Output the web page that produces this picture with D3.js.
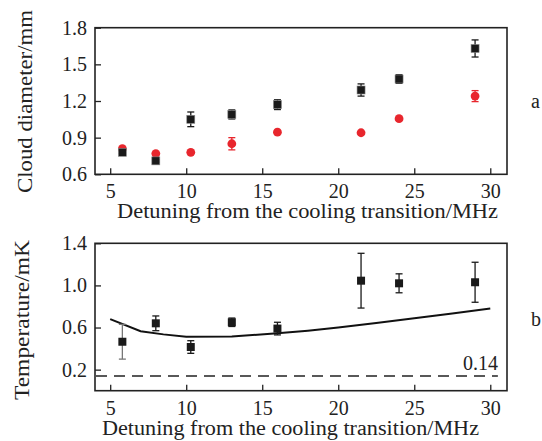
<!DOCTYPE html>
<html>
<head>
<meta charset="utf-8">
<script src="https://cdn.jsdelivr.net/npm/d3@7"></script>
<style>
  body { margin: 0; background: #fff; }
  svg text { font-family: "Liberation Serif", "DejaVu Serif", serif; fill: #222; }
</style>
</head>
<body>
<svg id="chart" width="542" height="441"></svg>
<script>
// detuning values (MHz)
const detuning = [5.8, 8, 10.3, 13, 16, 21.5, 24, 29];
const xTicks = [5, 10, 15, 20, 25, 30];

// panel a: cloud diameter (mm)
const diamBlack = [0.78, 0.71, 1.05, 1.09, 1.17, 1.29, 1.38, 1.63];
const diamBlackErr = [0.01, 0.01, 0.06, 0.037, 0.04, 0.05, 0.035, 0.07];
const diamRed = [0.81, 0.77, 0.78, 0.85, 0.945, 0.94, 1.055, 1.24];
const diamRedErr = [0, 0, 0, 0.05, 0, 0, 0, 0.045];
const diamTicks = [0.6, 0.9, 1.2, 1.5, 1.8];

// panel b: temperature (mK)
const temp = [0.465, 0.64, 0.415, 0.65, 0.59, 1.045, 1.02, 1.03];
const tempErr = [0.165, 0.07, 0.06, 0.04, 0.06, 0.26, 0.09, 0.19];
const theoryX = [5, 7, 8.5, 10, 13, 16, 18, 20, 22.5, 25, 27.5, 30];
const theoryT = [0.68, 0.565, 0.535, 0.512, 0.515, 0.545, 0.57, 0.6, 0.642, 0.688, 0.733, 0.78];
const dopplerLimit = 0.14;
const tempTicks = [0.2, 0.6, 1.0, 1.4];

const svg = d3.select("#chart");
const left = 95, right = 507;
const x = d3.scaleLinear().domain([4, 31.1]).range([left, right]);

function panel(top, bottom, yDomain, ticks, o) {
  const y = d3.scaleLinear().domain(yDomain).range([bottom, top]);
  const g = svg.append("g");

  g.append("g").attr("transform", `translate(0,${bottom})`)
    .call(d3.axisBottom(x).tickValues(xTicks).tickSize(-6).tickPadding(10).tickFormat(d3.format("d")))
    .call(a => a.select(".domain").remove())
    .call(a => a.selectAll("line").attr("stroke", "#222").attr("stroke-width", 1.3))
    .call(a => a.selectAll("text").attr("font-size", 20).attr("fill", "#222"));

  g.append("g").attr("transform", `translate(${left},0)`)
    .call(d3.axisLeft(y).tickValues(ticks).tickSize(-6).tickPadding(8).tickFormat(d3.format(".1f")))
    .call(a => a.select(".domain").remove())
    .call(a => a.selectAll("line").attr("stroke", "#222").attr("stroke-width", 1.3))
    .call(a => a.selectAll("text").attr("font-size", 20).attr("fill", "#222"));

  g.append("rect").attr("x", left).attr("y", top)
    .attr("width", right - left).attr("height", bottom - top)
    .attr("fill", "none").attr("stroke", "#222").attr("stroke-width", 1.6);

  g.append("text").attr("x", o.titleX).attr("y", bottom + 44)
    .attr("font-size", 20.5).attr("textLength", o.titleLen).attr("lengthAdjust", "spacingAndGlyphs")
    .text("Detuning from the cooling transition/MHz");

  g.append("text").attr("transform", `translate(${o.yTitleX},${o.yTitleMid}) rotate(-90)`)
    .attr("text-anchor", "middle").attr("font-size", 21)
    .attr("textLength", o.yTitleLen).attr("lengthAdjust", "spacingAndGlyphs")
    .text(o.yTitle);

  g.append("text").attr("x", 531).attr("y", o.letterY).attr("font-size", 20).text(o.letter);
  return { g, y };
}

function errorBars(g, y, xs, ys, errs, color) {
  const d = xs.map((v, i) => ({ x: v, y: ys[i], e: errs[i] })).filter(p => p.e > 0);
  const eb = g.append("g").attr("stroke", color).attr("stroke-width", 1.3);
  eb.selectAll("line.v").data(d).join("line")
    .attr("x1", p => x(p.x)).attr("x2", p => x(p.x))
    .attr("y1", p => y(p.y - p.e)).attr("y2", p => y(p.y + p.e));
  [-1, 1].forEach(s => {
    eb.selectAll("line.c" + (s > 0 ? "t" : "b")).data(d).join("line")
      .attr("x1", p => x(p.x) - 3.5).attr("x2", p => x(p.x) + 3.5)
      .attr("y1", p => y(p.y + s * p.e)).attr("y2", p => y(p.y + s * p.e));
  });
}

// panel a
const pa = panel(27.7, 174.3, [0.6, 1.8], diamTicks, {
  titleX: 117, titleLen: 381, yTitle: "Cloud diameter/mm", yTitleX: 32, yTitleMid: 101.5,
  yTitleLen: 183, letter: "a", letterY: 108
});
errorBars(pa.g, pa.y, detuning, diamRed, diamRedErr, "#e8262d");
errorBars(pa.g, pa.y, detuning, diamBlack, diamBlackErr, "#1a1a1a");
pa.g.selectAll("circle.red").data(detuning).join("circle")
  .attr("cx", d => x(d)).attr("cy", (d, i) => pa.y(diamRed[i])).attr("r", 4.4)
  .attr("fill", "#e8262d");
pa.g.selectAll("rect.sq").data(detuning).join("rect")
  .attr("x", d => x(d) - 4).attr("y", (d, i) => pa.y(diamBlack[i]) - 4)
  .attr("width", 8).attr("height", 8).attr("fill", "#1a1a1a")
  .attr("stroke", "#888").attr("stroke-width", 0.6);

// panel b
const pb = panel(243.3, 390.7, [0, 1.4], tempTicks, {
  titleX: 102, titleLen: 377, yTitle: "Temperature/mK", yTitleX: 29, yTitleMid: 320,
  yTitleLen: 160, letter: "b", letterY: 326
});
pb.g.append("line")
  .attr("x1", left + 1).attr("x2", x(30.5))
  .attr("y1", pb.y(dopplerLimit)).attr("y2", pb.y(dopplerLimit))
  .attr("stroke", "#222").attr("stroke-width", 1.6).attr("stroke-dasharray", "11,7");
pb.g.append("text").attr("x", x(30.5)).attr("y", pb.y(dopplerLimit) - 6)
  .attr("text-anchor", "end").attr("font-size", 20).text(dopplerLimit.toFixed(2));
pb.g.append("path")
  .datum(theoryX.map((v, i) => [v, theoryT[i]]))
  .attr("d", d3.line().x(d => x(d[0])).y(d => pb.y(d[1])))
  .attr("fill", "none").attr("stroke", "#111").attr("stroke-width", 2);
errorBars(pb.g, pb.y, detuning.slice(0, 1), temp.slice(0, 1), tempErr.slice(0, 1), "#777");
errorBars(pb.g, pb.y, detuning.slice(1), temp.slice(1), tempErr.slice(1), "#1a1a1a");
pb.g.selectAll("rect.sq").data(detuning).join("rect")
  .attr("x", d => x(d) - 4).attr("y", (d, i) => pb.y(temp[i]) - 4)
  .attr("width", 8).attr("height", 8).attr("fill", "#1a1a1a");
</script>
</body>
</html>
